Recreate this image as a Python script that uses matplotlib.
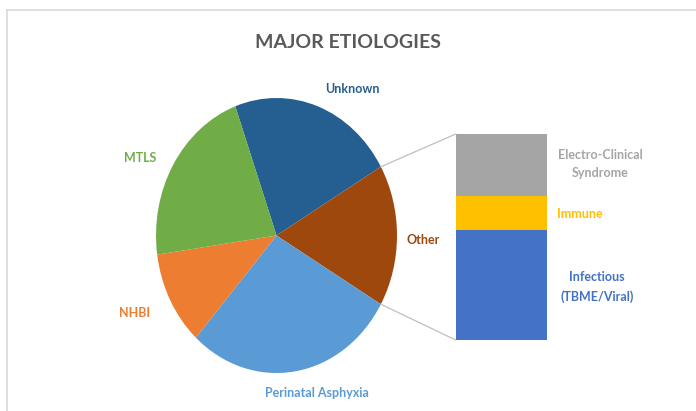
import matplotlib
matplotlib.use("Agg")
import matplotlib.pyplot as plt
from matplotlib.patches import ConnectionPatch
from matplotlib.lines import Line2D
import numpy as np

# Data
pie_labels = ["Unknown", "Other", "Perinatal Asphyxia", "NHBI", "MTLS"]
pie_values = [40, 30, 51, 20, 39]
pie_colors = ["#255E91", "#9E480E", "#5B9BD5", "#ED7D31", "#70AD47"]

bar_labels = ["Infectious\n(TBME/Viral)", "Immune", "Electro-Clinical\nSyndrome"]
bar_values = [16, 5, 9]
bar_colors = ["#4472C4", "#FFC000", "#A5A5A5"]

plt.rcParams['font.family'] = ['Lato', 'DejaVu Sans']

W, H = 696, 411
fig = plt.figure(figsize=(W / 100, H / 100), dpi=100)

def px(x, y):
    # pixel (from top-left) -> figure fraction
    return x / W, 1 - y / H

# chart area border (top and left only visible)
fig.add_artist(Line2D([7 / W, 1], [1 - 10 / H] * 2, color="#D9D9D9", lw=1.2, transform=fig.transFigure))
fig.add_artist(Line2D([7 / W] * 2, [0, 1 - 10 / H], color="#D9D9D9", lw=1.2, transform=fig.transFigure))

# Pie (slightly stretched vertically like the original)
cx, cy, rx, ry = 276.5, 235.5, 120.5, 137.5
axp = fig.add_axes([(cx - 1.25 * rx) / W, 1 - (cy + 1.25 * ry) / H, 2.5 * rx / W, 2.5 * ry / H])
start = 30 + 360 * pie_values[0] / sum(pie_values)
wedges, _ = axp.pie(pie_values, colors=pie_colors, startangle=start, counterclock=False,
                    wedgeprops=dict(linewidth=0))
axp.set_aspect('auto')
axp.set_xlim(-1.25, 1.25)
axp.set_ylim(-1.25, 1.25)
axp.axis('off')

# Bar of "Other"
bx0, bx1, by0, by1 = 455.7, 546.7, 134, 340
axb = fig.add_axes([bx0 / W, 1 - by1 / H, (bx1 - bx0) / W, (by1 - by0) / H])
bottom = 0
for v, c in zip(bar_values, bar_colors):
    axb.bar(0, v, width=1, bottom=bottom, color=c, linewidth=0)
    bottom += v
axb.set_xlim(-0.5, 0.5)
axb.set_ylim(0, sum(bar_values))
axb.axis('off')

# connector lines
half = 180 * pie_values[1] / sum(pie_values)
for ang, yb in [(half, sum(bar_values)), (-half, 0)]:
    a = np.deg2rad(ang)
    con = ConnectionPatch(xyA=(np.cos(a), np.sin(a)), coordsA=axp.transData,
                          xyB=(-0.5, yb), coordsB=axb.transData,
                          color="#BFBFBF", lw=0.9)
    fig.add_artist(con)

# Title
fig.text(*px(348, 43), "MAJOR ETIOLOGIES", ha="center", va="center",
         fontsize=14, color="#595959", fontweight="bold")

# Labels
lab_pos = {"Unknown": (352, 89), "Other": (423, 240), "Perinatal Asphyxia": (317, 393),
           "NHBI": (135, 313), "MTLS": (140, 158)}
for lab, c in zip(pie_labels, pie_colors):
    fig.text(*px(*lab_pos[lab]), lab, ha="center", va="center", fontsize=9, color=c,
             fontweight="bold")

bar_pos = [(597, 287), (580, 214), (600, 164)]
for lab, c, p in zip(bar_labels, bar_colors, bar_pos):
    fig.text(*px(*p), lab, ha="center", va="center", fontsize=9, color=c,
             linespacing=1.6, fontweight="bold")

fig.savefig("out.png", dpi=100)
